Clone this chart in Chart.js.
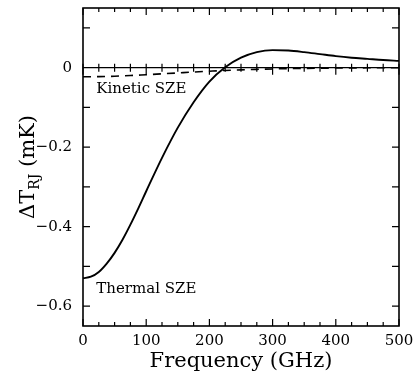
<!DOCTYPE html>
<html><head><meta charset="utf-8">
<script src="https://cdn.jsdelivr.net/npm/chart.js@4"></script>
<style>html,body{margin:0;padding:0;background:#fff}#wrap{width:415px;height:376px}</style>
</head><body><div id="wrap"><canvas id="c" width="415" height="376"></canvas></div>
<script>
// Frequency grid (GHz)
const freqGHz = [0,12.5,25,37.5,50,62.5,75,87.5,100,125,150,175,200,225,250,275,300,325,350,375,400,425,450,475,500];
// Thermal SZE, ΔT_RJ in mK
const thermalSZE = [-0.530,-0.526,-0.514,-0.493,-0.466,-0.433,-0.395,-0.354,-0.311,-0.227,-0.151,-0.087,-0.035,0.001,0.025,0.039,0.044,0.043,0.039,0.034,0.029,0.025,0.022,0.019,0.017];
// Kinetic SZE, ΔT_RJ in mK
const kineticSZE = [-0.023,-0.0229,-0.0226,-0.0222,-0.0216,-0.0208,-0.0199,-0.0189,-0.0179,-0.0156,-0.0133,-0.0110,-0.0090,-0.0071,-0.0056,-0.0043,-0.0033,-0.0025,-0.0019,-0.0014,-0.0010,-0.0007,-0.0005,-0.0004,-0.0003];
// Axis ticks
const xTickValues = [0,100,200,300,400,500];
const yTickValues = [-0.6,-0.4,-0.2,0];
const xMinorStep = 25;
const yMinorStep = 0.1;
const annotations = [
  {text:'Kinetic SZE', x:21, y:-0.065},
  {text:'Thermal SZE', x:21, y:-0.567}
];

const SERIF = '"DejaVu Serif", serif';

const framePlugin = {
  id:'frame',
  beforeDatasetsDraw(chart){
    const {ctx, chartArea:a, scales:{x, y}} = chart;
    ctx.save();
    ctx.strokeStyle = '#000';
    ctx.lineWidth = 1.2;
    const y0 = y.getPixelForValue(0);
    ctx.beginPath();
    ctx.moveTo(a.left, y0); ctx.lineTo(a.right, y0);
    for (let v = 0; v <= 500 + 1e-9; v += xMinorStep) {
      const px = x.getPixelForValue(v);
      const major = Math.abs(v % 100) < 1e-9;
      const L = major ? 7 : 4;
      ctx.moveTo(px, a.bottom); ctx.lineTo(px, a.bottom - L);
      ctx.moveTo(px, a.top); ctx.lineTo(px, a.top + L);
      ctx.moveTo(px, y0 - 4); ctx.lineTo(px, y0 + (major ? 7 : 4));
    }
    for (let k = -6; k <= 1; k++) {
      const py = y.getPixelForValue(k * yMinorStep);
      ctx.moveTo(a.left, py); ctx.lineTo(a.left + 7, py);
      ctx.moveTo(a.right, py); ctx.lineTo(a.right - 7, py);
    }
    ctx.stroke();
    ctx.restore();
  },
  afterDatasetsDraw(chart){
    const {ctx, chartArea:a} = chart;
    ctx.save();
    ctx.strokeStyle = '#000';
    ctx.lineWidth = 1.6;
    ctx.strokeRect(a.left, a.top, a.right - a.left, a.bottom - a.top);
    ctx.restore();
  },
  afterDraw(chart){
    const {ctx, chartArea:a, scales:{x, y}} = chart;
    ctx.save();
    ctx.fillStyle = '#000';
    ctx.font = '15px ' + SERIF;
    ctx.textBaseline = 'alphabetic';
    ctx.textAlign = 'left';
    annotations.forEach(an => ctx.fillText(an.text, x.getPixelForValue(an.x), y.getPixelForValue(an.y)));
    ctx.font = '21px ' + SERIF;
    ctx.textAlign = 'center';
    ctx.fillText('Frequency (GHz)', (a.left + a.right) / 2, 367);
    const big = '21px ' + SERIF, small = '14px ' + SERIF;
    ctx.font = big; const w1 = ctx.measureText('\u0394T').width; const w3 = ctx.measureText(' (mK)').width;
    ctx.font = small; const w2 = ctx.measureText('RJ').width;
    const total = w1 + w2 + w3;
    ctx.translate(34, (a.top + a.bottom) / 2);
    ctx.rotate(-Math.PI / 2);
    ctx.textAlign = 'left';
    let cx = -total / 2;
    ctx.font = big; ctx.fillText('\u0394T', cx, 0); cx += w1;
    ctx.font = small; ctx.fillText('RJ', cx, 5); cx += w2;
    ctx.font = big; ctx.fillText(' (mK)', cx, 0);
    ctx.restore();
  }
};

const mk = arr => freqGHz.map((f, i) => ({x: f, y: arr[i]}));
const noPad = s => { s.paddingTop = 0; s.paddingBottom = 0; s.paddingLeft = 0; s.paddingRight = 0; };

new Chart(document.getElementById('c'), {
  type: 'line',
  data: {datasets: [
    {label:'Thermal SZE', data: mk(thermalSZE), borderColor:'#000', borderWidth:1.9, pointRadius:0, fill:false, cubicInterpolationMode:'monotone'},
    {label:'Kinetic SZE', data: mk(kineticSZE), borderColor:'#000', borderWidth:1.6, borderDash:[8,6], pointRadius:0, fill:false, cubicInterpolationMode:'monotone'}
  ]},
  options: {
    responsive:false, animation:false, devicePixelRatio:1,
    layout:{padding:{top:8, right:16, left:0, bottom:0}},
    plugins:{legend:{display:false}, tooltip:{enabled:false}},
    scales:{
      x:{type:'linear', min:0, max:500,
        grid:{display:false, drawTicks:false}, border:{display:false},
        afterBuildTicks: s => { s.ticks = xTickValues.map(v => ({value:v})); },
        ticks:{font:{family:SERIF, size:15}, color:'#000', padding:6, maxRotation:0, autoSkip:false},
        afterFit: s => { s.height = 50; noPad(s); }},
      y:{type:'linear', min:-0.65, max:0.15,
        grid:{display:false, drawTicks:false}, border:{display:false},
        afterBuildTicks: s => { s.ticks = yTickValues.map(v => ({value:v})); },
        ticks:{font:{family:SERIF, size:15}, color:'#000', padding:11, autoSkip:false,
          callback: v => Math.abs(v) < 1e-9 ? '0' : (v < 0 ? '\u2212' : '') + Math.abs(v).toFixed(1)},
        afterFit: s => { s.width = 83; noPad(s); }}
    }
  },
  plugins:[framePlugin]
});
</script></body></html>
